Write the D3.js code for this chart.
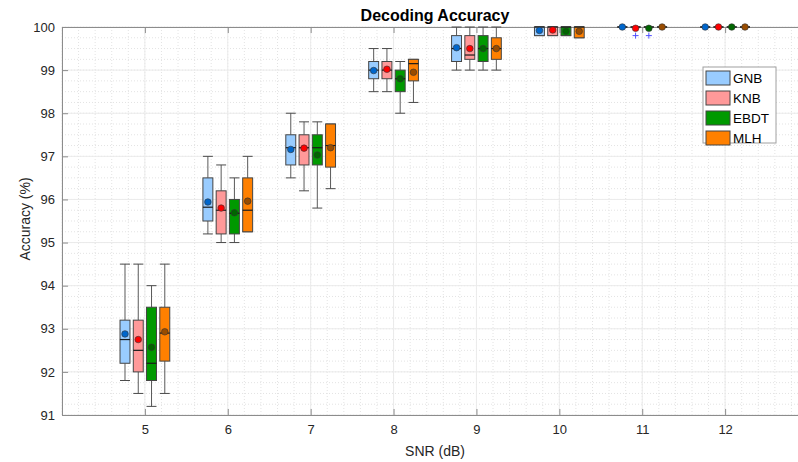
<!DOCTYPE html>
<html>
<head>
<meta charset="utf-8">
<script src="https://cdn.jsdelivr.net/npm/d3@7"></script>
<style>
  body { margin: 0; background: #fff; }
  text { font-family: "Liberation Sans", Arial, Helvetica, sans-serif; }
</style>
</head>
<body>
<div id="chart"></div>
<script>
// SNR levels and methods
var snrLevels = [5, 6, 7, 8, 9, 10, 11, 12];
var methods = ["GNB", "KNB", "EBDT", "MLH"];

// box stats per SNR: [whiskerLow, q1, median, q3, whiskerHigh]
var gnbStats = [
    [91.8, 92.2, 92.75, 93.2, 94.5],
    [95.2, 95.5, 95.82, 96.5, 97.0],
    [96.5, 96.8, 97.2, 97.5, 98.0],
    [98.5, 98.8, 99.0, 99.2, 99.5],
    [99.0, 99.2, 99.5, 99.8, 100],
    [99.8, 99.8, 100, 100, 100],
    [100, 100, 100, 100, 100],
    [100, 100, 100, 100, 100]
];
var knbStats = [
    [91.5, 92.0, 92.5, 93.2, 94.5],
    [95.0, 95.2, 95.75, 96.2, 96.8],
    [96.2, 96.8, 97.2, 97.5, 97.8],
    [98.5, 98.8, 99.0, 99.2, 99.5],
    [99.0, 99.25, 99.35, 99.8, 100],
    [99.8, 99.8, 100, 100, 100],
    [100, 100, 100, 100, 100],
    [100, 100, 100, 100, 100]
];
var ebdtStats = [
    [91.2, 91.8, 92.2, 93.5, 94.0],
    [95.0, 95.2, 95.68, 96.0, 96.5],
    [95.8, 96.8, 97.2, 97.5, 97.8],
    [98.0, 98.5, 98.8, 99.0, 99.2],
    [99.0, 99.2, 99.5, 99.8, 100],
    [99.8, 99.8, 100, 100, 100],
    [100, 100, 100, 100, 100],
    [100, 100, 100, 100, 100]
];
var mlhStats = [
    [91.5, 92.25, 92.9, 93.5, 94.5],
    [95.25, 95.25, 95.75, 96.5, 97.0],
    [96.25, 96.75, 97.25, 97.75, 97.75],
    [98.25, 98.75, 99.15, 99.25, 99.25],
    [99.0, 99.25, 99.5, 99.75, 100],
    [99.75, 99.75, 100, 100, 100],
    [100, 100, 100, 100, 100],
    [100, 100, 100, 100, 100]
];

// means per SNR
var gnbMeans = [92.88, 95.94, 97.16, 98.99, 99.52, 99.92, 100, 100];
var knbMeans = [92.75, 95.8, 97.19, 99.02, 99.5, 99.93, 99.97, 100];
var ebdtMeans = [92.57, 95.69, 97.03, 98.8, 99.5, 99.9, 99.97, 100];
var mlhMeans = [92.93, 95.96, 97.2, 98.95, 99.5, 99.9, 100, 100];

// outliers: [snr, method index, value]
var outliers = [
    [11, 1, 99.8],
    [11, 2, 99.8]
];

var yTicks = [91, 92, 93, 94, 95, 96, 97, 98, 99, 100];

var allStats = [gnbStats, knbStats, ebdtStats, mlhStats];
var allMeans = [gnbMeans, knbMeans, ebdtMeans, mlhMeans];
var fills = ["#99ccff", "#ff9999", "#009900", "#ff8000"];
var dotColors = ["#0066cc", "#ff0000", "#006600", "#994c00"];
var offsets = [-0.24, -0.08, 0.08, 0.24];
var boxW = 0.12;

var width = 798, height = 462;
var plotLeft = 62, plotRight = 808, plotTop = 27, plotBottom = 415;

var svg = d3.select("#chart")
    .append("svg")
    .attr("width", width)
    .attr("height", height);

svg.append("rect").attr("width", width).attr("height", height).attr("fill", "#fff");

var x = d3.scaleLinear().domain([4, 13]).range([plotLeft, plotRight]);
var y = d3.scaleLinear().domain([91, 100]).range([plotBottom, plotTop]);

// grid: minor dotted, major solid
var grid = svg.append("g");
grid.selectAll(".vminor")
    .data(d3.range(4, 13.001, 0.2))
    .enter().append("line")
    .attr("x1", d => x(d)).attr("x2", d => x(d))
    .attr("y1", plotTop).attr("y2", plotBottom)
    .attr("stroke", "#e3e3e3").attr("stroke-dasharray", "1,2");
grid.selectAll(".hminor")
    .data(d3.range(91, 100.001, 0.25))
    .enter().append("line")
    .attr("x1", plotLeft).attr("x2", plotRight)
    .attr("y1", d => y(d)).attr("y2", d => y(d))
    .attr("stroke", "#e3e3e3").attr("stroke-dasharray", "1,2");
grid.selectAll(".vmajor")
    .data(d3.range(4, 14))
    .enter().append("line")
    .attr("x1", d => x(d)).attr("x2", d => x(d))
    .attr("y1", plotTop).attr("y2", plotBottom)
    .attr("stroke", "#ebebeb");
grid.selectAll(".hmajor")
    .data(yTicks)
    .enter().append("line")
    .attr("x1", plotLeft).attr("x2", plotRight)
    .attr("y1", d => y(d)).attr("y2", d => y(d))
    .attr("stroke", "#ebebeb");

// axes (ticks point inward like matlab)
var xAxis = svg.append("g")
    .attr("transform", "translate(0," + plotBottom + ")")
    .call(d3.axisBottom(x).tickValues(snrLevels).tickSizeInner(-6).tickSizeOuter(0).tickPadding(10));
var xAxisTop = svg.append("g")
    .attr("transform", "translate(0," + plotTop + ")")
    .call(d3.axisTop(x).tickValues(snrLevels).tickSizeInner(-6).tickSizeOuter(0).tickFormat(""));
var yAxis = svg.append("g")
    .attr("transform", "translate(" + plotLeft + ",0)")
    .call(d3.axisLeft(y).tickValues(yTicks).tickSizeInner(-6).tickSizeOuter(0).tickPadding(7));

[xAxis, xAxisTop, yAxis].forEach(function(a) {
    a.select(".domain").attr("stroke", "#8c8c8c");
    a.selectAll(".tick line").attr("stroke", "#8c8c8c");
    a.selectAll(".tick text")
        .attr("fill", "#262626")
        .style("font-size", "13px")
        .style("font-family", "'Liberation Sans', Arial, sans-serif");
});

// boxes
var boxes = svg.append("g");
for (var m = 0; m < methods.length; m++) {
    var g = boxes.append("g");
    var rows = snrLevels.map(function(s, i) {
        return { snr: s, st: allStats[m][i], mean: allMeans[m][i], off: offsets[m] };
    });
    var grp = g.selectAll("g").data(rows).enter().append("g");
    var hw = (x(boxW) - x(0)) / 2;

    // whiskers
    grp.append("line")
        .attr("x1", d => x(d.snr + d.off)).attr("x2", d => x(d.snr + d.off))
        .attr("y1", d => y(d.st[3])).attr("y2", d => y(d.st[4]))
        .attr("stroke", "#5a5a5a");
    grp.append("line")
        .attr("x1", d => x(d.snr + d.off)).attr("x2", d => x(d.snr + d.off))
        .attr("y1", d => y(d.st[1])).attr("y2", d => y(d.st[0]))
        .attr("stroke", "#5a5a5a");
    grp.append("line")
        .attr("x1", d => x(d.snr + d.off) - hw).attr("x2", d => x(d.snr + d.off) + hw)
        .attr("y1", d => y(d.st[4])).attr("y2", d => y(d.st[4]))
        .attr("stroke", "#4a4a4a");
    grp.append("line")
        .attr("x1", d => x(d.snr + d.off) - hw).attr("x2", d => x(d.snr + d.off) + hw)
        .attr("y1", d => y(d.st[0])).attr("y2", d => y(d.st[0]))
        .attr("stroke", "#4a4a4a");

    grp.append("rect")
        .attr("x", d => x(d.snr + d.off) - hw)
        .attr("y", d => y(d.st[3]))
        .attr("width", hw * 2)
        .attr("height", d => y(d.st[1]) - y(d.st[3]))
        .attr("fill", fills[m])
        .attr("stroke", "#444")
        .attr("stroke-width", 1);

    // median
    grp.append("line")
        .attr("x1", d => x(d.snr + d.off) - hw).attr("x2", d => x(d.snr + d.off) + hw)
        .attr("y1", d => y(d.st[2])).attr("y2", d => y(d.st[2]))
        .attr("stroke", "#1a1a1a").attr("stroke-width", 1.2);

    // mean marker
    grp.append("circle")
        .attr("cx", d => x(d.snr + d.off))
        .attr("cy", d => y(d.mean))
        .attr("r", 3.3)
        .attr("fill", dotColors[m])
        .attr("stroke", "#333")
        .attr("stroke-width", 0.6);
}

// outliers '+'
var outG = svg.append("g");
outliers.forEach(function(o) {
    var cx = x(o[0] + offsets[o[1]]), cy = y(o[2]);
    outG.append("path")
        .attr("d", "M" + (cx - 3) + "," + cy + "H" + (cx + 3) + "M" + cx + "," + (cy - 3) + "V" + (cy + 3))
        .attr("stroke", "#4f4fff").attr("stroke-width", 1);
});

// title and labels
svg.append("text")
    .attr("x", (plotLeft + plotRight) / 2).attr("y", 21)
    .attr("text-anchor", "middle")
    .style("font-size", "16px").style("font-weight", "bold")
    .attr("fill", "#000")
    .text("Decoding Accuracy");

svg.append("text")
    .attr("x", (plotLeft + plotRight) / 2).attr("y", 456)
    .attr("text-anchor", "middle")
    .style("font-size", "14px")
    .attr("fill", "#262626")
    .text("SNR (dB)");

svg.append("text")
    .attr("transform", "translate(30,219) rotate(-90)")
    .attr("text-anchor", "middle")
    .style("font-size", "14px")
    .attr("fill", "#262626")
    .text("Accuracy (%)");

// legend
var legend = svg.append("g");
legend.append("rect")
    .attr("x", 703).attr("y", 67).attr("width", 73).attr("height", 76)
    .attr("fill", "#fff").attr("stroke", "#a0a0a0");
var items = legend.selectAll(".item")
    .data(methods)
    .enter().append("g")
    .attr("transform", (d, i) => "translate(706," + (78 + i * 20) + ")");
items.append("rect")
    .attr("x", 0).attr("y", -7).attr("width", 24).attr("height", 14)
    .attr("fill", (d, i) => fills[i])
    .attr("stroke", "#444");
items.append("text")
    .attr("x", 27).attr("y", 0).attr("dy", "0.36em")
    .style("font-size", "13.5px")
    .attr("fill", "#000")
    .text(d => d);
</script>
</body>
</html>
